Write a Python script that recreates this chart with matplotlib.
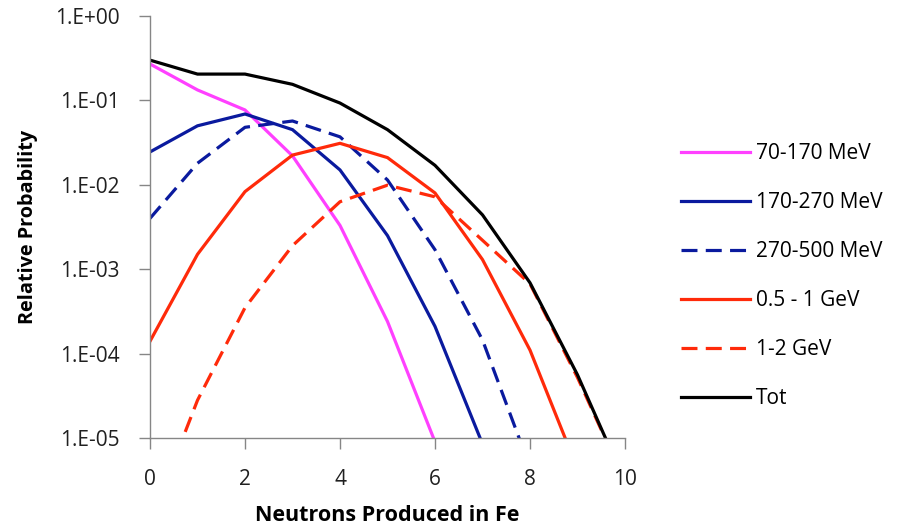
import matplotlib
matplotlib.use("Agg")
import matplotlib.pyplot as plt
from matplotlib.ticker import FixedLocator

plt.rcParams['font.family'] = ['Open Sans', 'DejaVu Sans']

# datos (probabilidad relativa por numero de neutrones)
n_neutrons = [0, 1, 2, 3, 4, 5, 6, 7, 8, 9, 10]

p_70_170 = [0.27, 0.133, 0.077, 0.022, 0.0033, 2.4e-4, 9e-6, 1e-7, 1e-8, 1e-9, 1e-10]
p_170_270 = [0.0245, 0.050, 0.069, 0.045, 0.015, 0.0025, 2.1e-4, 8.5e-6, 1e-7, 1e-8, 1e-9]
p_270_500 = [0.004, 0.018, 0.048, 0.057, 0.037, 0.0114, 0.0017, 1.45e-4, 4.5e-6, 1e-7, 1e-8]
p_05_1 = [1.4e-4, 0.0015, 0.0083, 0.0225, 0.031, 0.021, 0.008, 0.0013, 1.1e-4, 4.3e-6, 1e-7]
p_1_2 = [1e-6, 2.8e-5, 3.5e-4, 0.0019, 0.0063, 0.0099, 0.0072, 0.0022, 6.7e-4, 5.2e-5, 3e-6]
p_tot = [0.30, 0.205, 0.205, 0.155, 0.093, 0.045, 0.017, 0.0044, 6.9e-4, 5.6e-5, 3e-6]

labels = ['70-170 MeV', '170-270 MeV', '270-500 MeV', '0.5 - 1 GeV', '1-2 GeV', 'Tot']
y_ticks = [1e-5, 1e-4, 1e-3, 1e-2, 1e-1, 1e0]
y_tick_labels = ['1.E-05', '1.E-04', '1.E-03', '1.E-02', '1.E-01', '1.E+00']
x_ticks = [0, 2, 4, 6, 8, 10]

W, H = 906, 529
fig = plt.figure(figsize=(W / 100, H / 100), dpi=100)
ax = fig.add_axes([150 / W, 1 - 438 / H, 475 / W, 422 / H])

series = [p_70_170, p_170_270, p_270_500, p_05_1, p_1_2, p_tot]
colors = ['#FF40FF', '#0A1A9E', '#0A1A9E', '#FF2A0A', '#FF2A0A', '#000000']
styles = ['-', '-', '--', '-', '--', '-']

for vals, lab, col, ls in zip(series, labels, colors, styles):
    line, = ax.plot(n_neutrons, vals, color=col, lw=2.3, ls=ls, label=lab,
                    solid_joinstyle='miter', dash_capstyle='butt')
    if ls == '--':
        line.set_dashes((5, 2.6))

ax.set_yscale('log')
ax.set_ylim(1e-5, 1)
ax.set_xlim(0, 10)
ax.yaxis.set_major_locator(FixedLocator(y_ticks))
ax.set_yticklabels(y_tick_labels)
ax.yaxis.set_minor_locator(FixedLocator([]))
ax.set_xticks(x_ticks)

for s in ['top', 'right']:
    ax.spines[s].set_visible(False)
for s in ['left', 'bottom']:
    ax.spines[s].set_color('#868686')
    ax.spines[s].set_linewidth(1)

ax.tick_params(axis='both', direction='out', length=8, width=1, color='#868686',
               labelsize=15, labelcolor='#202020')
ax.tick_params(axis='y', pad=14)
ax.tick_params(axis='x', pad=14)

ax.set_xlabel('Neutrons Produced in Fe', fontsize=15.5, fontweight='bold', labelpad=11)
ax.set_ylabel('Relative Probability', fontsize=14.3, fontweight='bold', labelpad=12)

leg = fig.legend(loc='upper left', bbox_to_anchor=(673 / W, 1 - 135 / H),
                 frameon=False, fontsize=15, handlelength=3.3, handletextpad=0.3,
                 labelspacing=1.34, borderaxespad=0)

plt.savefig('out.png', dpi=100)
